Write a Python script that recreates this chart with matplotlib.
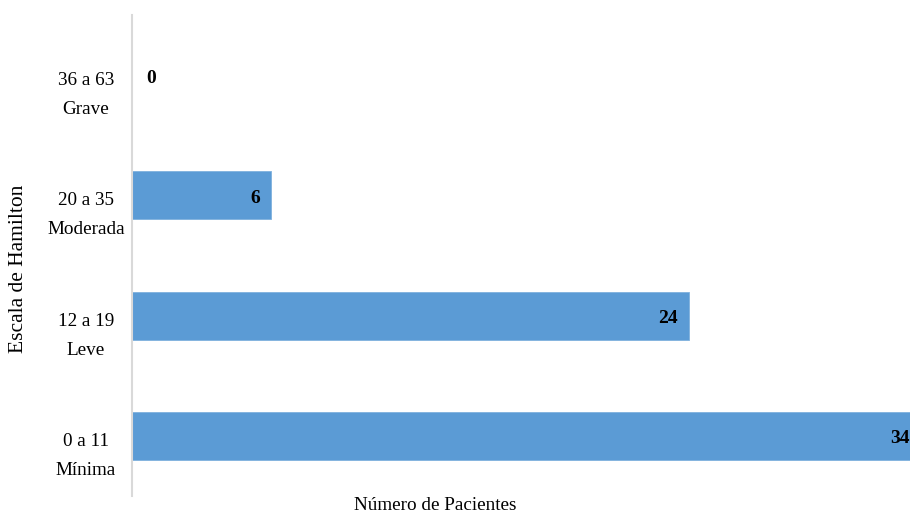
import matplotlib.pyplot as plt

plt.rcParams['font.family'] = ['Liberation Serif', 'DejaVu Serif']

# datos
rangos = ['0 a 11', '12 a 19', '20 a 35', '36 a 63']
niveles = ['Mínima', 'Leve', 'Moderada', 'Grave']
pacientes = [34, 24, 6, 0]

W, H = 910, 514
fig = plt.figure(figsize=(W / 100, H / 100), dpi=100)
# axes runs a little past the right edge, so the longest bar is clipped as in the original
ax = fig.add_axes([132 / W, 1 - 496 / H, 789 / W, 481 / H])

pos = list(range(len(rangos)))
ax.barh(pos, pacientes, height=0.4, color='#5B9BD5', edgecolor='#7FB1DE', linewidth=0.6)

for y, v in zip(pos, pacientes):
    if v == 0:
        ax.annotate(str(v), (v, y), xytext=(14, -1), textcoords='offset pixels',
                    ha='left', va='center_baseline', fontsize=14, fontweight='bold')
    else:
        ax.annotate(str(v), (v, y), xytext=(-11, -1), textcoords='offset pixels',
                    ha='right', va='center_baseline', fontsize=14, fontweight='bold')

# category labels: first line level with the bar, second line below
for y, r, n in zip(pos, rangos, niveles):
    ax.annotate(r + '\n' + n, (0, y), xycoords=('axes fraction', 'data'),
                xytext=(-46, -20), textcoords='offset pixels',
                ha='center', va='center', multialignment='center',
                fontsize=13.8, linespacing=1.94)

ax.set_xlim(0, 34)
ax.set_ylim(-0.5, 3.5)
ax.set_yticks([])
ax.set_xticks([])

for s in ['top', 'right', 'bottom']:
    ax.spines[s].set_visible(False)
ax.spines['left'].set_color('#D9D9D9')
ax.spines['left'].set_linewidth(1.5)

fig.text(19 / W, 1 - 269 / H, 'Escala de Hamilton', rotation=90, ha='center', va='center', fontsize=15.5)
fig.text(435 / W, 1 - 505 / H, 'Número de Pacientes', ha='center', va='center', fontsize=13.8)

fig.savefig('out.png', dpi=100)
